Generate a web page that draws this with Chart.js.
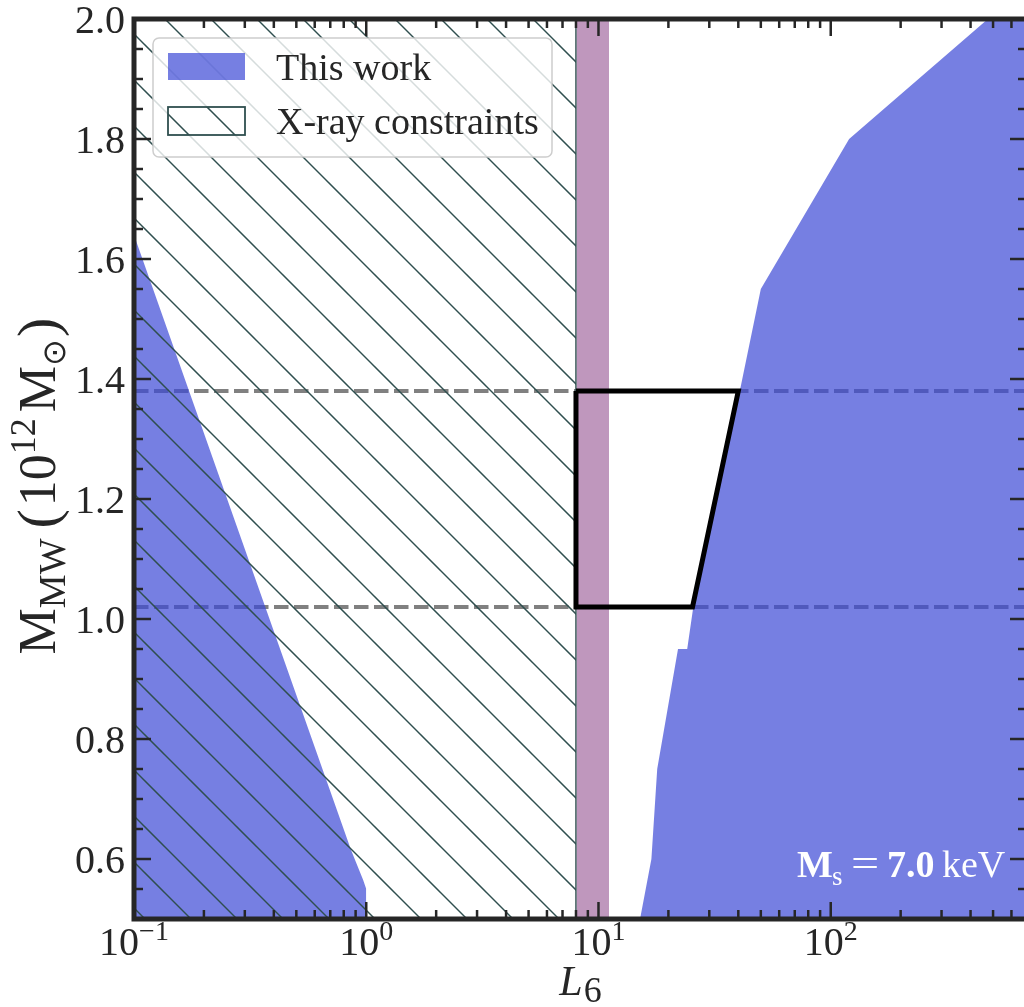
<!DOCTYPE html>
<html>
<head>
<meta charset="utf-8">
<script src="https://cdn.jsdelivr.net/npm/chart.js@4.4.1/dist/chart.umd.min.js"></script>
<style>
    html, body { margin: 0; padding: 0; overflow: hidden; background: #fff; }
    #chart { display: block; }
</style>
</head>
<body>
<canvas id="chart" width="1032" height="1007" style="width:1032px;height:1007px"></canvas>
<script>
// Axis ranges: L6 (log) and Milky Way mass in 1e12 Msun
const xRange = [0.1, 700];
const yRange = [0.5, 2.0];

// "This work" region at low L6 (upper edge of the filled area)
const leftL6 = [0.1, 0.86, 0.97, 1.0, 1.0];
const leftMass = [1.64, 0.615, 0.565, 0.55, 0.5];

// "This work" region at high L6 (left edge, everything to the right is filled)
const rightL6 = [15.1, 16.9, 17.9, 22.0, 24.1, 25.6, 40.6, 50.0, 120, 475, 700];
const rightMass = [0.5, 0.6, 0.75, 0.95, 0.95, 1.02, 1.38, 1.55, 1.80, 2.0, 2.0];

// X-ray limit on L6 and the narrow L6 band next to it
const xrayLimit = 8.0;
const bandL6 = [8.05, 11.1];

// Mass bounds (dashed) and the allowed box
const massBounds = [1.02, 1.38];
const boxL6 = [8, 40, 25.4, 8, 8];
const boxMass = [1.38, 1.38, 1.02, 1.02, 1.38];

// Tick labels
const xTickPowers = [-1, 0, 1, 2];
const yTicks = [0.6, 0.8, 1.0, 1.2, 1.4, 1.6, 1.8, 2.0];
const yTickLabels = ['0.6', '0.8', '1.0', '1.2', '1.4', '1.6', '1.8', '2.0'];

const legendLabels = ['This work', 'X-ray constraints'];

const SERIF = '"Liberation Serif", "Times New Roman", serif';
const TEAL = '#2f4f4f';
const BLUE = 'rgba(60, 72, 214, 0.7)';
const PURPLE = '#bf97bd';
const INK = '#262626';

function pts(xs, ys) {
    return xs.map((x, i) => ({ x: x, y: ys[i] }));
}

const canvas = document.getElementById('chart');
const ctx = canvas.getContext('2d');

// diagonal "\\" hatch, anchored to the canvas origin
function makeHatch(color) {
    const size = 46;
    const tile = document.createElement('canvas');
    tile.width = size;
    tile.height = size;
    const g = tile.getContext('2d');
    g.strokeStyle = color;
    g.lineWidth = 1.5;
    [-size, 0, size].forEach(off => {
        g.beginPath();
        g.moveTo(8 + off - 10, -10);
        g.lineTo(8 + off + size + 10, size + 10);
        g.stroke();
    });
    return ctx.createPattern(tile, 'repeat');
}
const hatch = makeHatch(TEAL);

// draw a run of text pieces (used for super/subscripts)
function runWidth(c, parts) {
    let w = 0;
    parts.forEach(p => { c.font = p.font; w += c.measureText(p.t).width + (p.gap || 0); });
    return w;
}
function drawRun(c, parts, x, y) {
    parts.forEach(p => {
        c.font = p.font;
        c.fillText(p.t, x, y + (p.dy || 0));
        x += c.measureText(p.t).width + (p.gap || 0);
    });
}

const framePlugin = {
    id: 'frame',
    afterDraw(chart) {
        const c = chart.ctx;
        const a = chart.chartArea;
        const sx = chart.scales.x;
        const sy = chart.scales.y;
        c.save();

        // legend
        c.beginPath();
        c.roundRect(153, 38, 399, 119, 6);
        c.fillStyle = 'rgba(255,255,255,0.8)';
        c.fill();
        c.strokeStyle = 'rgba(200,200,200,0.9)';
        c.lineWidth = 1.5;
        c.stroke();
        c.fillStyle = BLUE;
        c.fillRect(168, 53, 77, 27);
        c.fillStyle = hatch;
        c.fillRect(168, 107, 77, 28);
        c.strokeStyle = TEAL;
        c.lineWidth = 1.8;
        c.strokeRect(168, 107, 77, 28);
        c.fillStyle = INK;
        c.font = '38px ' + SERIF;
        c.textAlign = 'left';
        c.textBaseline = 'alphabetic';
        c.fillText(legendLabels[0], 276, 80);
        c.fillText(legendLabels[1], 276, 134);

        // mass label, bottom right
        c.fillStyle = '#ffffff';
        c.font = 'bold 38px ' + SERIF;
        c.fillText('M', 797, 877);
        c.font = '27px ' + SERIF;
        c.fillText('s', 832, 885);
        c.font = '40px ' + SERIF;
        c.save();
        c.translate(851, 877);
        c.scale(1.25, 1);
        c.fillText('=', 0, 0);
        c.restore();
        c.font = 'bold 38px ' + SERIF;
        c.fillText('7.0', 887, 877);
        c.font = '38px ' + SERIF;
        c.fillText('keV', 942, 877);

        // inward ticks on all four sides
        c.strokeStyle = INK;
        c.lineWidth = 2.5;
        const seg = (x1, y1, x2, y2) => {
            c.beginPath(); c.moveTo(x1, y1); c.lineTo(x2, y2); c.stroke();
        };
        const xTick = (v, len) => {
            if (v < xRange[0] || v > xRange[1]) return;
            const px = sx.getPixelForValue(v);
            seg(px, a.bottom, px, a.bottom - len);
            seg(px, a.top, px, a.top + len);
        };
        const yTick = (v, len) => {
            const py = sy.getPixelForValue(v);
            seg(a.left, py, a.left + len, py);
            seg(a.right, py, a.right - len, py);
        };
        xTickPowers.forEach(p => {
            xTick(Math.pow(10, p), 17);
            for (let m = 2; m <= 9; m++) xTick(m * Math.pow(10, p), 9);
        });
        for (let i = 1; i < 30; i++) {
            const v = Math.round((yRange[0] + i * 0.05) * 100) / 100;
            yTick(v, yTicks.includes(v) ? 17 : 9);
        }

        // spines
        c.lineWidth = 5;
        c.strokeRect(a.left, a.top, a.right - a.left, a.bottom - a.top);

        // tick labels
        c.fillStyle = INK;
        c.font = '40px ' + SERIF;
        c.textAlign = 'right';
        yTicks.forEach((v, i) => {
            c.fillText(yTickLabels[i], 125, sy.getPixelForValue(v) + 13.5);
        });
        c.textAlign = 'left';
        xTickPowers.forEach(p => {
            const exp = (p < 0 ? '\u2212' : '') + Math.abs(p);
            const parts = [
                { t: '10', font: '40px ' + SERIF },
                { t: exp, font: '28px ' + SERIF, dy: -15 }
            ];
            const px = sx.getPixelForValue(Math.pow(10, p));
            drawRun(c, parts, px - runWidth(c, parts) / 2, 955);
        });

        // x axis label
        const xl = [
            { t: 'L', font: 'italic 42px ' + SERIF, gap: 1 },
            { t: '6', font: '36px ' + SERIF, dy: 7 }
        ];
        drawRun(c, xl, (a.left + a.right) / 2 - runWidth(c, xl) / 2, 995);

        // y axis label
        const yl = [
            { t: 'M', font: '52px ' + SERIF },
            { t: 'MW', font: '38px ' + SERIF, dy: 10, gap: 10 },
            { t: '(', font: '58px ' + SERIF, dy: 2, gap: 3 },
            { t: '10', font: '52px ' + SERIF },
            { t: '12', font: '36px ' + SERIF, dy: -20, gap: 6 },
            { t: 'M', font: '52px ' + SERIF },
            { t: '\u2299', font: '32px ' + SERIF, dy: 10, gap: 2 },
            { t: ')', font: '58px ' + SERIF, dy: 2 }
        ];
        c.translate(55, 486);
        c.rotate(-Math.PI / 2);
        drawRun(c, yl, -runWidth(c, yl) / 2, 0);

        c.restore();
    }
};

new Chart(ctx, {
    type: 'scatter',
    data: {
        datasets: [
            {
                label: 'allowed box',
                data: pts(boxL6, boxMass),
                showLine: true,
                borderColor: '#000000',
                borderWidth: 5,
                borderJoinStyle: 'miter',
                fill: false,
                order: 0
            },
            {
                label: 'L6 band',
                data: pts(bandL6, [yRange[1], yRange[1]]),
                showLine: true,
                borderWidth: 0,
                borderColor: 'rgba(0,0,0,0)',
                backgroundColor: PURPLE,
                fill: 'start',
                order: 1
            },
            {
                label: legendLabels[1],
                data: pts([xRange[0], xrayLimit, xrayLimit], [yRange[1], yRange[1], yRange[0]]),
                showLine: true,
                borderColor: TEAL,
                borderWidth: 1.5,
                backgroundColor: hatch,
                fill: 'start',
                order: 2
            },
            {
                label: legendLabels[0],
                data: pts(leftL6, leftMass),
                showLine: true,
                borderWidth: 0,
                borderColor: 'rgba(0,0,0,0)',
                backgroundColor: BLUE,
                fill: 'start',
                order: 3
            },
            {
                label: legendLabels[0] + ' (high L6)',
                data: pts(rightL6, rightMass),
                showLine: true,
                borderWidth: 0,
                borderColor: 'rgba(0,0,0,0)',
                backgroundColor: BLUE,
                fill: 'start',
                order: 3
            },
            ...massBounds.map(m => ({
                label: 'mass bound',
                data: pts(xRange, [m, m]),
                showLine: true,
                borderColor: '#808080',
                borderWidth: 4,
                borderDash: [14.5, 5.5],
                fill: false,
                order: 4
            }))
        ]
    },
    options: {
        responsive: false,
        animation: false,
        events: [],
        layout: { padding: { left: 134, top: 19, right: 5, bottom: 88 } },
        elements: {
            point: { radius: 0, hoverRadius: 0 },
            line: { tension: 0 }
        },
        plugins: {
            legend: { display: false },
            tooltip: { enabled: false }
        },
        scales: {
            x: { type: 'logarithmic', min: xRange[0], max: xRange[1], display: false },
            y: { type: 'linear', min: yRange[0], max: yRange[1], display: false }
        }
    },
    plugins: [framePlugin]
});
</script>
</body>
</html>
